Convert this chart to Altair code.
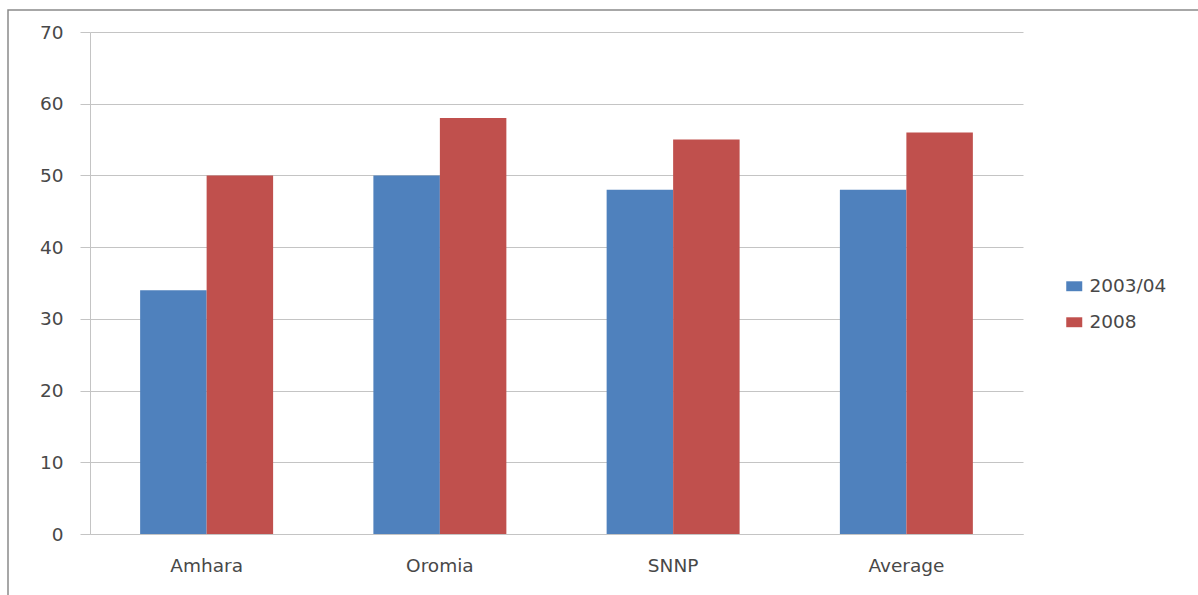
import altair as alt
import pandas as pd

regions = ["Amhara", "Oromia", "SNNP", "Average"]
series = ["2003/04", "2008"]
values_2003_04 = [34, 50, 48, 48]
values_2008 = [50, 58, 55, 56]
colors = ["#4F81BD", "#C0504D"]
y_ticks = [0, 10, 20, 30, 40, 50, 60, 70]

rows = []
for r, a, b in zip(regions, values_2003_04, values_2008):
    rows.append({"region": r, "series": series[0], "value": a})
    rows.append({"region": r, "series": series[1], "value": b})
df = pd.DataFrame(rows)

FONT = "DejaVu Sans"
GRID = "#C4C4C4"
LABEL = "#484848"

bars = alt.Chart(df).mark_bar().encode(
    x=alt.X(
        "region:N",
        sort=regions,
        scale=alt.Scale(paddingInner=0, paddingOuter=0),
        axis=alt.Axis(
            title=None, labelAngle=0, grid=False, ticks=False,
            domainColor=GRID,
            labelFont=FONT, labelFontSize=18.5, labelColor=LABEL, labelPadding=22,
        ),
    ),
    xOffset=alt.XOffset("series:N", sort=series,
                        scale=alt.Scale(paddingInner=0, paddingOuter=0.754)),
    y=alt.Y(
        "value:Q",
        scale=alt.Scale(domain=[0, 70], nice=False),
        axis=alt.Axis(
            title=None, values=y_ticks, grid=True, gridColor=GRID,
            domainColor=GRID, tickColor=GRID, tickSize=10,
            labelFont=FONT, labelFontSize=18.5, labelColor=LABEL, labelPadding=17,
        ),
    ),
    color=alt.Color(
        "series:N",
        sort=series,
        scale=alt.Scale(domain=series, range=colors),
        legend=alt.Legend(
            title=None, orient="none", legendX=975, legendY=245,
            symbolType="M-1,-0.62H1V0.62H-1Z", symbolSize=256,
            symbolStrokeWidth=0, labelFont=FONT, labelFontSize=18.5,
            labelColor=LABEL, labelOffset=6, rowPadding=17, padding=0,
        ),
    ),
)

frame = alt.Chart(alt.Data(values=[{"k": 1}])).mark_rect(
    filled=False, stroke="#8A8A8A", strokeWidth=1.5
).encode(
    x=alt.value(-82), x2=alt.value(1120), y=alt.value(-22), y2=alt.value(580)
)

chart = alt.layer(frame, bars).properties(
    width=933, height=502,
    background="white",
    autosize=alt.AutoSizeParams(type="none"),
    padding={"left": 90, "top": 32, "right": 175, "bottom": 61},
).configure_view(stroke="transparent", strokeWidth=0)

chart.save("out.html", embed_options={"renderer": "svg", "actions": False})
